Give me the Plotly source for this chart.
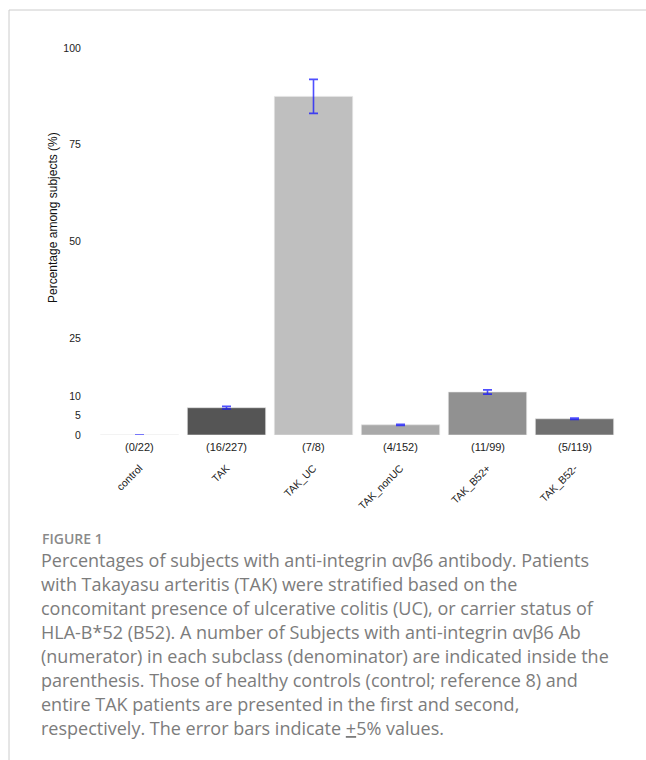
import plotly.graph_objects as go

categories = ["control", "TAK", "TAK_UC", "TAK_nonUC", "TAK_B52+", "TAK_B52-"]
counts = ["(0/22)", "(16/227)", "(7/8)", "(4/152)", "(11/99)", "(5/119)"]
percent = [0, 7.05, 87.5, 2.63, 11.11, 4.2]
err = [0, 0.35, 4.38, 0.13, 0.56, 0.21]
bar_colors = ["#555555", "#555555", "#bfbfbf", "#a9a9a9", "#919191", "#707070"]
ytick_vals = [0, 5, 10, 25, 50, 75, 100]

caption_title = "FIGURE 1"
caption_lines = [
    "Percentages of subjects with anti-integrin αvβ6 antibody. Patients",
    "with Takayasu arteritis (TAK) were stratified based on the",
    "concomitant presence of ulcerative colitis (UC), or carrier status of",
    "HLA-B*52 (B52). A number of Subjects with anti-integrin αvβ6 Ab",
    "(numerator) in each subclass (denominator) are indicated inside the",
    "parenthesis. Those of healthy controls (control; reference 8) and",
    "entire TAK patients are presented in the first and second,",
    "respectively. The error bars indicate <u>+</u>5% values.",
]

W, H = 646, 760
L, R, T, B = 96, 618, 48, 435


def px(x):
    return (x - L) / (R - L)


def py(y):
    return (B - y) / (B - T)


fig = go.Figure()
fig.add_trace(go.Bar(
    x=categories, y=percent,
    marker=dict(color=bar_colors, line=dict(color="rgba(230,230,230,0.6)", width=1)),
    width=0.9,
    error_y=dict(type="data", array=err, visible=True, color="rgba(20,20,255,0.75)",
                 thickness=1.6, width=4.5),
    showlegend=False,
))

annotations = []
for c, t in zip(categories, counts):
    annotations.append(dict(x=c, xref="x", y=py(447), yref="paper", text=t,
                            showarrow=False, xanchor="center", yanchor="middle",
                            font=dict(family="Liberation Sans, Arial", size=11, color="#222")))

annotations.append(dict(x=px(53), xref="paper", y=py(218), yref="paper",
                        text="Percentage among subjects (%)", textangle=-90,
                        showarrow=False, xanchor="center", yanchor="middle",
                        font=dict(family="Liberation Sans, Arial", size=12, color="#111")))

annotations.append(dict(x=px(40), xref="paper", y=py(538), yref="paper",
                        text=caption_title, showarrow=False, xanchor="left", yanchor="middle",
                        font=dict(family="Open Sans", size=14, color="#8a8a8a", weight=600)))
for i, line in enumerate(caption_lines):
    annotations.append(dict(x=px(39), xref="paper", y=py(560 + i * 24), yref="paper",
                            text=line, showarrow=False, xanchor="left", yanchor="middle",
                            font=dict(family="Open Sans", size=18, color="#7c7c7c")))

shapes = [
    dict(type="line", xref="paper", yref="paper", x0=px(9), x1=px(646), y0=py(10), y1=py(10),
         line=dict(color="#cccccc", width=1)),
    dict(type="line", xref="paper", yref="paper", x0=px(9), x1=px(9), y0=py(10), y1=py(760),
         line=dict(color="#cccccc", width=1)),
]

fig.update_layout(
    width=W, height=H,
    margin=dict(l=L, r=W - R, t=T, b=H - B, pad=0),
    paper_bgcolor="white", plot_bgcolor="white",
    font=dict(family="Liberation Sans, Arial", size=10.5, color="#222"),
    xaxis=dict(range=[-0.5, 5.5], showline=False, showgrid=False, zeroline=False,
               tickangle=-45, ticks="outside", ticklen=22, tickcolor="rgba(0,0,0,0)",
               tickfont=dict(size=10.5)),
    yaxis=dict(range=[0, 100], showline=False, showgrid=False, zeroline=False,
               tickvals=ytick_vals, ticktext=[str(v) for v in ytick_vals],
               ticks="outside", ticklen=12, tickcolor="rgba(0,0,0,0)",
               tickfont=dict(size=10.5)),
    annotations=annotations,
    shapes=shapes,
)

fig.write_html("out.html")
